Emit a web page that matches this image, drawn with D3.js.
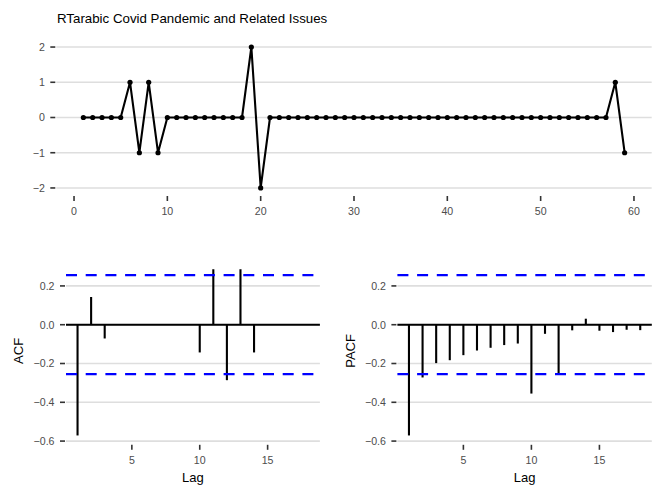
<!DOCTYPE html>
<html><head><meta charset="utf-8">
<script src="https://cdn.jsdelivr.net/npm/d3@7"></script>
<style>body{margin:0;background:#fff;} text{font-family:"Liberation Sans",Arial,sans-serif;}</style>
</head><body>
<svg id="c" width="664" height="498"></svg>
<script>
const titleText = "RTarabic Covid Pandemic and Related Issues";
const seriesT = d3.range(1, 60);
const seriesV = [0,0,0,0,0,1,-1,1,-1,0,0,0,0,0,0,0,0,0,2,-2,0,0,0,0,0,0,0,0,0,0,0,0,0,0,0,0,0,0,0,0,0,0,0,0,0,0,0,0,0,0,0,0,0,0,0,0,0,1,-1];
const lags = d3.range(1, 19);
const acfVals = [-0.571,0.143,-0.071,0,0,0,0,0,0,-0.143,0.286,-0.286,0.286,-0.143,0,0,0,0];
const pacfVals = [-0.571,-0.272,-0.198,-0.183,-0.157,-0.133,-0.119,-0.105,-0.097,-0.355,-0.047,-0.253,-0.029,0.031,-0.031,-0.038,-0.026,-0.028];
const ciLimit = 0.2552;
const topXTicks = [0,10,20,30,40,50,60];
const topYTicks = [-2,-1,0,1,2];
const lagTicks = [5,10,15];
const acfYTicks = [-0.6,-0.4,-0.2,0.0,0.2];

const svg = d3.select("#c");
const grid = "#dedede", tickCol = "#333333", lblCol = "#4d4d4d";

svg.append("text").attr("x",57).attr("y",23).attr("font-size",13.3).attr("fill","#000").text(titleText);

function axes(g, x, y, xt, yt, xfmt, yfmt, x0, x1) {
  g.selectAll(".gl").data(yt).join("line")
    .attr("x1", x0).attr("x2", x1).attr("y1", d=>y(d)).attr("y2", d=>y(d))
    .attr("stroke", grid).attr("stroke-width", 1.6);
  const yb = y.range()[0];
  g.selectAll(".yt").data(yt).join("line")
    .attr("x1", x0-6).attr("x2", x0-1).attr("y1", d=>y(d)).attr("y2", d=>y(d))
    .attr("stroke", tickCol).attr("stroke-width", 1.6);
  g.selectAll(".yl").data(yt).join("text")
    .attr("x", x0-11.5).attr("y", d=>y(d)).attr("dy","0.36em").attr("text-anchor","end")
    .attr("font-size",10.6).attr("fill",lblCol).text(yfmt);
  g.selectAll(".xt").data(xt).join("line")
    .attr("x1", d=>x(d)).attr("x2", d=>x(d)).attr("y1", yb+1).attr("y2", yb+6)
    .attr("stroke", tickCol).attr("stroke-width", 1.6);
  g.selectAll(".xl").data(xt).join("text")
    .attr("x", d=>x(d)).attr("y", yb+19.8).attr("text-anchor","middle")
    .attr("font-size",10.6).attr("fill",lblCol).text(xfmt);
}
const fmtNum = d => (d<0 ? "\u2212" : "") + Math.abs(d);
const fmt1 = d => (d<0 ? "\u2212" : "") + Math.abs(d).toFixed(1);

// top panel
{
  const x = d3.scaleLinear().domain([-1.9, 61.9]).range([56.3, 651.7]);
  const y = d3.scaleLinear().domain([-2.2, 2.2]).range([195, 40]);
  const g = svg.append("g");
  axes(g, x, y, topXTicks, topYTicks, fmtNum, fmtNum, 56.3, 651.7);
  const pts = seriesT.map((t,i)=>[t, seriesV[i]]);
  g.append("path").datum(pts)
    .attr("d", d3.line().x(d=>x(d[0])).y(d=>y(d[1])))
    .attr("fill","none").attr("stroke","#000").attr("stroke-width",2.1).attr("stroke-linejoin","round");
  g.selectAll(".pt").data(pts).join("circle")
    .attr("cx", d=>x(d[0])).attr("cy", d=>y(d[1])).attr("r", 2.6).attr("fill","#000");
}

function corrPanel(vals, x0, x1, ylabel, ylabX) {
  const x = d3.scaleLinear().domain([0.15, 18.85]).range([x0, x1]);
  const y = d3.scaleLinear().domain([-0.614, 0.329]).range([443.8, 260.9]);
  const g = svg.append("g");
  axes(g, x, y, lagTicks, acfYTicks, fmtNum, fmt1, x0, x1);
  g.append("line").attr("x1", x0).attr("x2", x1).attr("y1", y(0)).attr("y2", y(0))
    .attr("stroke","#000").attr("stroke-width",2.1);
  g.selectAll(".bar").data(lags.map((l,i)=>[l, vals[i]])).join("line")
    .attr("x1", d=>x(d[0])).attr("x2", d=>x(d[0])).attr("y1", y(0)).attr("y2", d=>y(d[1]))
    .attr("stroke","#000").attr("stroke-width",2.1);
  [ciLimit, -ciLimit].forEach(c => {
    g.append("line").attr("x1", x0).attr("x2", x1).attr("y1", y(c)).attr("y2", y(c))
      .attr("stroke","#0000ff").attr("stroke-width",2.2).attr("stroke-dasharray","11,8.7");
  });
  g.append("text").attr("x", (x0+x1)/2).attr("y", 481.7).attr("text-anchor","middle")
    .attr("font-size",13).attr("fill","#000").text("Lag");
  g.append("text").attr("transform", `translate(${ylabX},${y(-0.135)}) rotate(-90)`)
    .attr("text-anchor","middle").attr("font-size",13).attr("fill","#000").text(ylabel);
}
corrPanel(acfVals, 66, 319.9, "ACF", 23.3);
corrPanel(pacfVals, 397.4, 651.8, "PACF", 355.3);
</script>
</body></html>
